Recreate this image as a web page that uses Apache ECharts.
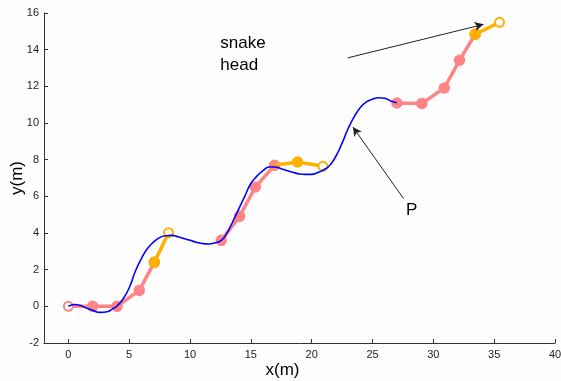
<!DOCTYPE html>
<html>
<head>
<meta charset="utf-8">
<script src="https://cdn.jsdelivr.net/npm/echarts@6/dist/echarts.min.js"></script>
<style>
  html, body { margin: 0; padding: 0; background: #fefefe; }
  #main { width: 561px; height: 381px; }
</style>
</head>
<body>
<div id="main"></div>
<script>
// path P followed by the snake (blue curve)
var pathP = [
    [0, 0], [0.5, 0.1], [1, 0.05], [1.5, -0.1], [2, -0.22], [2.6, -0.33], [3.2, -0.3],
    [3.6, -0.15], [4, 0.02], [4.5, 0.4], [5, 1.0], [5.5, 1.9], [6, 2.6], [6.5, 3.15],
    [7, 3.5], [7.5, 3.75], [8, 3.85], [8.5, 3.87], [9, 3.8], [9.5, 3.7], [10, 3.6],
    [10.5, 3.5], [11, 3.43], [11.5, 3.4], [12, 3.45], [12.57, 3.6], [13, 3.95],
    [13.5, 4.6], [14, 5.3], [14.5, 6.0], [15, 6.7], [15.5, 7.1], [16, 7.4], [16.5, 7.6],
    [17, 7.6], [17.5, 7.5], [18, 7.4], [18.5, 7.3], [19, 7.22], [19.5, 7.2], [20, 7.2],
    [20.5, 7.3], [21, 7.45], [21.5, 7.7], [22, 8.2], [22.5, 8.9], [23, 9.7], [23.5, 10.35],
    [24, 10.85], [24.5, 11.15], [25, 11.3], [25.5, 11.38], [26, 11.35], [26.5, 11.2], [27, 11.1]
];

// snake body: pink links, orange last link (head)
var body1 = [[0, 0], [2, 0], [4, 0], [5.83, 0.87], [7.07, 2.4]];
var head1 = [[7.07, 2.4], [8.24, 4.02]];
var body2 = [[12.57, 3.6], [14.08, 4.91], [15.37, 6.51], [16.95, 7.69]];
var head2 = [[16.95, 7.69], [18.84, 7.87], [20.93, 7.64]];
var body3 = [[27, 11.09], [29.06, 11.07], [30.9, 11.91], [32.15, 13.42], [33.44, 14.84]];
var head3 = [[33.44, 14.84], [35.44, 15.49]];

var xTicks = [0, 5, 10, 15, 20, 25, 30, 35, 40];
var yTicks = [-2, 16, 2];

var arrowHead = [[22.95, 13.55], [34.13, 15.38]];
var arrowP = [[27.55, 5.88], [23.39, 9.78]];

var pink = '#ff8585';
var orange = '#ffb000';
var font = 'Liberation Sans, Arial, sans-serif';

function bodySeries(d, hollowFirst) {
    return {
        type: 'line', data: d, z: 2,
        lineStyle: { color: pink, width: 3.5 },
        itemStyle: { color: pink, borderColor: pink, borderWidth: 2.5 },
        symbol: function (v, p) {
            return hollowFirst && p.dataIndex === 0 ? 'emptyCircle' : 'circle';
        },
        symbolSize: 9,
        animation: false
    };
}

function headSeries(d, skipFirst) {
    return {
        type: 'line', data: d, z: 3,
        lineStyle: { color: orange, width: 3.5 },
        symbol: function (v, p) {
            if (skipFirst && p.dataIndex === 0) return 'none';
            return p.dataIndex === d.length - 1 ? 'emptyCircle' : 'circle';
        },
        symbolSize: 9,
        itemStyle: { color: orange, borderColor: orange, borderWidth: 2.5 },
        animation: false
    };
}

var option = {
    backgroundColor: '#fefefe',
    animation: false,
    grid: { left: 44, right: 6, top: 13, bottom: 38, containLabel: false, outerBoundsMode: 'none' },
    xAxis: {
        type: 'value', min: -2, max: 40,
        name: 'x(m)', nameLocation: 'middle', nameGap: 19, nameMoveOverlap: false,
        nameTextStyle: { fontFamily: font, fontSize: 17, color: '#000', padding: [0, 34, 0, 0] },
        splitLine: { show: false },
        axisLine: { onZero: false, lineStyle: { color: '#333' } },
        axisTick: { inside: true, length: 4, lineStyle: { color: '#333' }, customValues: xTicks },
        axisLabel: {
            fontFamily: font, fontSize: 11, color: '#222', margin: 6,
            customValues: xTicks
        }
    },
    yAxis: {
        type: 'value', min: yTicks[0], max: yTicks[1], interval: yTicks[2],
        name: 'y(m)', nameLocation: 'middle', nameGap: 18, nameMoveOverlap: false,
        nameTextStyle: { fontFamily: font, fontSize: 17, color: '#000' },
        splitLine: { show: false },
        axisLine: { onZero: false, lineStyle: { color: '#333' } },
        axisTick: { inside: true, length: 4, lineStyle: { color: '#333' } },
        axisLabel: { fontFamily: font, fontSize: 11, color: '#222', margin: 5 }
    },
    series: [
        bodySeries(body1, true),
        bodySeries(body2, false),
        bodySeries(body3, false),
        headSeries(head1, false),
        headSeries(head2, true),
        headSeries(head3, false),
        {
            type: 'line', data: pathP, z: 5, smooth: true,
            symbol: 'none',
            lineStyle: { color: '#0000ff', width: 1.6 },
            markLine: {
                silent: true,
                symbol: ['none', 'arrow'], symbolSize: [7, 9],
                lineStyle: { color: '#222', width: 1, type: 'solid' },
                label: { show: false },
                data: [
                    [{ coord: arrowHead[0] }, { coord: arrowHead[1] }],
                    [{ coord: arrowP[0] }, { coord: arrowP[1] }]
                ]
            },
            markPoint: {
                silent: true,
                symbol: 'circle', symbolSize: 0,
                label: {
                    show: true, fontFamily: font, fontSize: 17, color: '#000',
                    align: 'left', verticalAlign: 'middle', lineHeight: 22
                },
                data: [
                    { coord: [12.49, 13.75], label: { formatter: 'snake\nhead' } },
                    { coord: [27.75, 5.24], label: { formatter: 'P' } }
                ]
            }
        }
    ]
};

var chart = echarts.init(document.getElementById('main'));
chart.setOption(option);
</script>
</body>
</html>
